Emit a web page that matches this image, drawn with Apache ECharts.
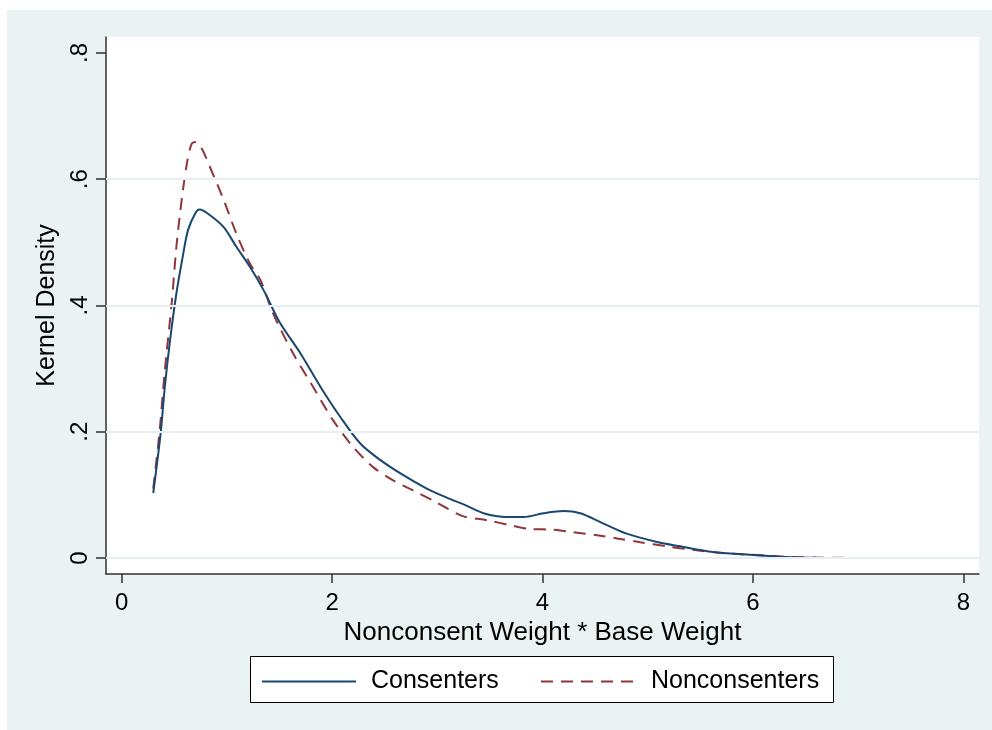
<!DOCTYPE html>
<html>
<head>
<meta charset="utf-8">
<script src="https://cdn.jsdelivr.net/npm/echarts@6/dist/echarts.min.js"></script>
<style>
html,body{margin:0;padding:0;background:#fff;}
#chart{width:992px;height:730px;}
</style>
</head>
<body>
<div id="chart"></div>
<script>
// ---- data ----
const seriesNames = ['Consenters', 'Nonconsenters'];

const consentersX = [0.30,0.37,0.41,0.46,0.52,0.58,0.63,0.70,0.74,0.84,0.97,1.09,1.22,1.35,1.50,1.70,1.89,2.08,2.27,2.46,2.65,2.90,3.10,3.25,3.44,3.66,3.82,4.01,4.20,4.36,4.55,4.80,5.09,5.31,5.62,5.94,6.26,6.57,7.00,7.59];
const consentersY = [0.103,0.197,0.271,0.345,0.419,0.477,0.519,0.546,0.552,0.543,0.524,0.493,0.461,0.424,0.374,0.324,0.271,0.223,0.181,0.155,0.134,0.110,0.095,0.085,0.071,0.065,0.065,0.071,0.0745,0.071,0.057,0.0386,0.0254,0.0185,0.0095,0.0054,0.0022,0.0005,0.0001,0.0];

const nonconsentersX = [0.30,0.36,0.41,0.475,0.52,0.57,0.62,0.665,0.705,0.76,0.84,0.97,1.09,1.22,1.32,1.44,1.63,1.82,2.01,2.20,2.39,2.58,2.77,2.96,3.10,3.25,3.47,3.69,3.88,4.10,4.29,4.52,4.71,4.93,5.18,5.43,5.70,6.00,6.30,6.60,6.91];
const nonconsentersY = [0.11,0.20,0.297,0.403,0.493,0.567,0.625,0.656,0.659,0.649,0.619,0.567,0.514,0.466,0.440,0.387,0.324,0.271,0.218,0.176,0.144,0.123,0.107,0.091,0.078,0.066,0.060,0.052,0.046,0.045,0.041,0.036,0.031,0.025,0.0185,0.013,0.008,0.005,0.002,0.0008,0.0003];

const xTickValues = [0, 2, 4, 6, 8];
const xTickLabels = ['0', '2', '4', '6', '8'];
const yTickValues = [0, 0.2, 0.4, 0.6, 0.8];
const yTickLabels = ['0', '.2', '.4', '.6', '.8'];
const yGridValues = [0, 0.2, 0.4, 0.6];

const xTitle = 'Nonconsent Weight * Base Weight';
const yTitle = 'Kernel Density';

// ---- build ----
const zip = (xs, ys) => xs.map((x, i) => [x, ys[i]]);
const FONT = '"Liberation Sans", Arial, sans-serif';
const labelFor = (vals, labs) => v => {
  const i = vals.findIndex(t => Math.abs(t - v) < 1e-9);
  return i >= 0 ? labs[i] : '';
};

const chart = echarts.init(document.getElementById('chart'), null, {renderer: 'canvas'});
chart.setOption({
  backgroundColor: '#ffffff',
  animation: false,
  graphic: [
    {type: 'rect', z: -10, silent: true, shape: {x: 7, y: 10, width: 985, height: 720}, style: {fill: '#EAF2F3'}},
    {type: 'rect', z: 0, silent: true, shape: {x: 250.5, y: 656.5, width: 583, height: 46}, style: {fill: '#ffffff', stroke: '#000000', lineWidth: 1}}
  ],
  grid: {
    left: 106, top: 37, right: 13, bottom: 156,
    show: true, backgroundColor: '#ffffff', borderWidth: 0, containLabel: false
  },
  xAxis: {
    type: 'value', min: -0.149, max: 8.149,
    name: xTitle, nameLocation: 'middle', nameGap: 39,
    nameTextStyle: {fontFamily: FONT, fontSize: 26, color: '#000'},
    axisLine: {show: true, onZero: false, lineStyle: {color: '#333', width: 1.5}},
    axisTick: {show: true, customValues: xTickValues, length: 9, inside: false, lineStyle: {color: '#333', width: 1.5}},
    axisLabel: {show: true, customValues: xTickValues, margin: 17, fontFamily: FONT, fontSize: 24, color: '#000',
      formatter: labelFor(xTickValues, xTickLabels)},
    splitLine: {show: false}
  },
  yAxis: {
    type: 'value', min: -0.0253, max: 0.8253,
    name: yTitle, nameLocation: 'middle', nameGap: 46, nameRotate: 90,
    nameTextStyle: {fontFamily: FONT, fontSize: 25, color: '#000'},
    axisLine: {show: true, onZero: false, lineStyle: {color: '#333', width: 1.5}},
    axisTick: {show: true, customValues: yTickValues, length: 10, inside: false, lineStyle: {color: '#333', width: 1.5}},
    axisLabel: {show: true, customValues: yTickValues, rotate: 90, margin: 14, fontFamily: FONT, fontSize: 24, color: '#000',
      formatter: labelFor(yTickValues, yTickLabels)},
    splitLine: {show: false}
  },
  legend: [
    {
      data: [seriesNames[0]], left: 261, top: 669, itemWidth: 94, itemHeight: 20, padding: 0,
      itemStyle: {opacity: 0},
      textStyle: {fontFamily: FONT, fontSize: 25, color: '#000', padding: [0, 0, 0, 10]},
      selectedMode: false
    },
    {
      data: [seriesNames[1]], left: 540, top: 669, itemWidth: 97, itemHeight: 20, padding: 0,
      itemStyle: {opacity: 0},
      textStyle: {fontFamily: FONT, fontSize: 25, color: '#000', padding: [0, 0, 0, 8]},
      selectedMode: false
    }
  ],
  series: [
    {
      name: '_grid', type: 'line', data: [], z: 1, silent: true,
      markLine: {
        silent: true, symbol: ['none', 'none'], animation: false,
        label: {show: false},
        lineStyle: {color: '#E6EEF1', width: 2, type: 'solid'},
        data: yGridValues.map(v => ({yAxis: v}))
      }
    },
    {
      name: seriesNames[1], type: 'line', data: zip(nonconsentersX, nonconsentersY),
      showSymbol: false, symbol: 'none', smooth: 0.3, z: 3,
      color: '#90353B',
      lineStyle: {color: '#90353B', width: 2, type: [12, 8]}
    },
    {
      name: seriesNames[0], type: 'line', data: zip(consentersX, consentersY),
      showSymbol: false, symbol: 'none', smooth: 0.3, z: 4,
      color: '#1A476F',
      lineStyle: {color: '#1A476F', width: 2, type: 'solid'}
    }
  ]
});
</script>
</body>
</html>
